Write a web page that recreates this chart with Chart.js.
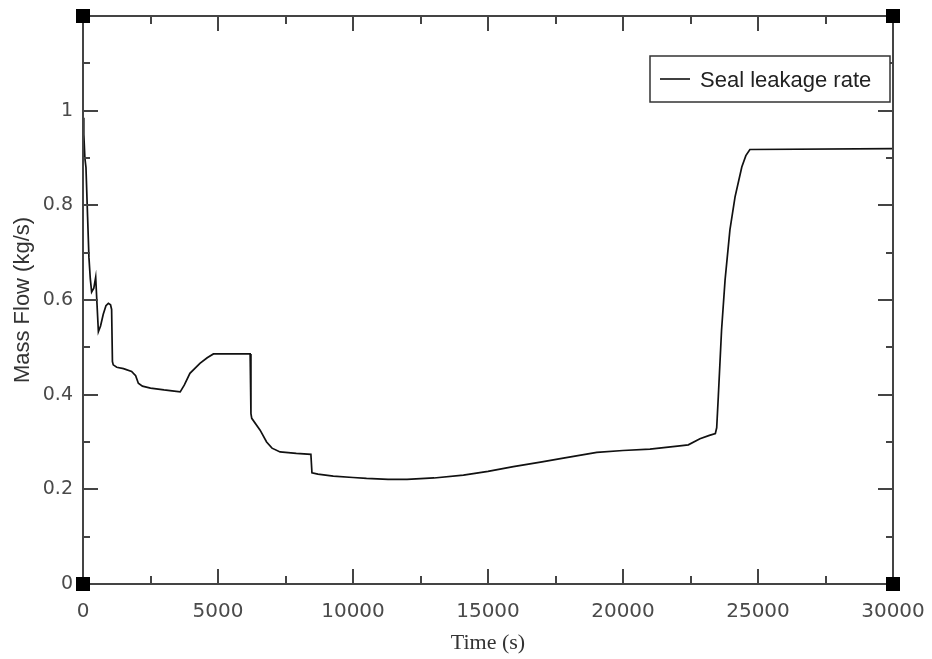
<!DOCTYPE html>
<html>
<head>
<meta charset="utf-8">
<script src="https://cdn.jsdelivr.net/npm/chart.js@4/dist/chart.umd.min.js"></script>
<style>
  html, body { margin: 0; padding: 0; background: #ffffff; }
  #wrap { width: 932px; height: 659px; }
</style>
</head>
<body>
<div id="wrap"><canvas id="c" width="932" height="659"></canvas></div>
<script>
// ---- Data ----
const seriesLabel = 'Seal leakage rate';
const xTitle = 'Time (s)';
const yTitle = 'Mass Flow (kg/s)';

const times = [
  0, 30, 70, 110, 170, 220, 270, 320, 400, 470, 520, 570, 650, 750, 850, 940, 1020, 1060, 1090, 1120,
  1250, 1500, 1800, 1950, 2050, 2200, 2500, 3000, 3300, 3600, 3750, 3960, 4330, 4600, 4830, 6190,
  6220, 6250, 6560, 6800, 7000, 7300, 7900, 8440, 8480, 8700, 9270, 10000, 10500, 11300, 12000,
  13000, 14090, 15000, 15940, 17000, 17790, 19030, 20000, 21000, 22100, 22420, 22850, 23200, 23420,
  23470, 23530, 23650, 23780, 23960, 24150, 24400, 24550, 24700, 30000
];
const flows = [
  0.985, 0.95, 0.90, 0.88, 0.776, 0.69, 0.645, 0.617, 0.625, 0.648, 0.59, 0.533, 0.545, 0.57, 0.588, 0.593, 0.59, 0.58, 0.47, 0.463,
  0.458, 0.455, 0.449, 0.44, 0.424, 0.418, 0.414, 0.41, 0.408, 0.406, 0.42, 0.445, 0.466, 0.478, 0.486, 0.486,
  0.36, 0.35, 0.325, 0.30, 0.287, 0.279, 0.276, 0.274, 0.235, 0.232, 0.228, 0.225, 0.223, 0.221, 0.221,
  0.224, 0.230, 0.238, 0.248, 0.258, 0.266, 0.278, 0.282, 0.285, 0.292, 0.294, 0.307, 0.314, 0.318,
  0.33, 0.396, 0.536, 0.642, 0.748, 0.818, 0.881, 0.905, 0.918, 0.92
];

// axis settings
const xMin = 0, xMax = 30000, xStep = 2500, xMajor = 5000;
const yMin = 0, yMax = 1.2, yStep = 0.1, yLabelMax = 1.0;

const points = times.map((t, i) => ({ x: t, y: flows[i] }));

const AXIS_COLOR = '#444';
const TEXT_COLOR = '#4a4a4a';

const framePlugin = {
  id: 'framePlugin',
  afterDraw(chart) {
    const ctx = chart.ctx;
    const a = chart.chartArea;
    const xs = chart.scales.x, ys = chart.scales.y;
    ctx.save();
    ctx.strokeStyle = AXIS_COLOR;
    ctx.lineWidth = 2;
    ctx.strokeRect(a.left, a.top, a.right - a.left, a.bottom - a.top);
    xs.ticks.forEach(t => {
      const v = t.value;
      const px = Math.round(xs.getPixelForValue(v));
      const major = Math.abs(v % xMajor) < 1e-6;
      const len = major ? 15 : 8;
      ctx.beginPath();
      ctx.moveTo(px, a.bottom); ctx.lineTo(px, a.bottom - len);
      ctx.moveTo(px, a.top); ctx.lineTo(px, a.top + len);
      ctx.stroke();
    });
    ys.ticks.forEach(t => {
      const v = t.value;
      const py = Math.round(ys.getPixelForValue(v));
      const major = Math.round(v * 10) % 2 === 0;
      const len = major ? 15 : 7;
      ctx.beginPath();
      ctx.moveTo(a.left, py); ctx.lineTo(a.left + len, py);
      ctx.moveTo(a.right, py); ctx.lineTo(a.right - len, py);
      ctx.stroke();
    });
    ctx.fillStyle = '#000';
    const s = 14;
    [[a.left, a.top], [a.right, a.top], [a.left, a.bottom], [a.right, a.bottom]].forEach(([cx, cy]) => {
      ctx.fillRect(cx - s / 2, cy - s / 2, s, s);
    });
    // legend box
    const bw = 240, bh = 46;
    const bx = a.right - 3 - bw, by = a.top + 40;
    ctx.fillStyle = '#fff';
    ctx.fillRect(bx, by, bw, bh);
    ctx.strokeStyle = '#333';
    ctx.lineWidth = 1.5;
    ctx.strokeRect(bx, by, bw, bh);
    ctx.strokeStyle = '#111';
    ctx.lineWidth = 1.6;
    ctx.beginPath();
    ctx.moveTo(bx + 10, by + bh / 2);
    ctx.lineTo(bx + 40, by + bh / 2);
    ctx.stroke();
    ctx.fillStyle = '#222';
    ctx.font = '22px "Liberation Sans", Arial, sans-serif';
    ctx.textBaseline = 'alphabetic';
    ctx.textAlign = 'left';
    ctx.fillText(chart.data.datasets[0].label, bx + 50, by + bh / 2 + 8);
    ctx.restore();
  }
};

new Chart(document.getElementById('c'), {
  type: 'line',
  data: {
    datasets: [{
      label: seriesLabel,
      data: points,
      borderColor: '#111',
      borderWidth: 1.7,
      pointRadius: 0,
      tension: 0,
      fill: false
    }]
  },
  options: {
    responsive: false,
    animation: false,
    devicePixelRatio: 1,
    layout: { padding: { left: 0, right: 39, top: 16, bottom: 0 } },
    plugins: { legend: { display: false }, tooltip: { enabled: false } },
    scales: {
      x: {
        type: 'linear',
        min: xMin, max: xMax,
        grid: { display: false, drawTicks: false, tickLength: 0 },
        border: { display: false },
        ticks: {
          stepSize: xStep,
          autoSkip: false,
          maxRotation: 0,
          padding: 16,
          color: TEXT_COLOR,
          font: { family: '"DejaVu Sans", Verdana, sans-serif', size: 20 },
          callback: v => (Math.abs(v % xMajor) < 1e-6 ? String(v) : '')
        },
        title: {
          display: true, text: xTitle, color: '#333',
          font: { family: '"Liberation Serif", "Times New Roman", serif', size: 22 },
          padding: { top: 0, bottom: 3 }
        },
        afterFit: s => { s.height = 75; s.paddingLeft = 0; s.paddingRight = 0; }
      },
      y: {
        type: 'linear',
        min: yMin, max: yMax,
        grid: { display: false, drawTicks: false, tickLength: 0 },
        border: { display: false },
        ticks: {
          stepSize: yStep,
          autoSkip: false,
          padding: 10,
          color: TEXT_COLOR,
          font: { family: '"DejaVu Sans", Verdana, sans-serif', size: 19 },
          callback: v => {
            const r = Math.round(v * 10);
            return (r % 2 === 0 && r <= yLabelMax * 10) ? String(r / 10) : '';
          }
        },
        title: {
          display: true, text: yTitle, color: '#333',
          font: { family: '"Liberation Sans", Arial, sans-serif', size: 22 },
          padding: { top: 10, bottom: 0 }
        },
        afterFit: s => { s.width = 83; s.paddingTop = 0; s.paddingBottom = 0; }
      }
    }
  },
  plugins: [framePlugin]
});
</script>
</body>
</html>
